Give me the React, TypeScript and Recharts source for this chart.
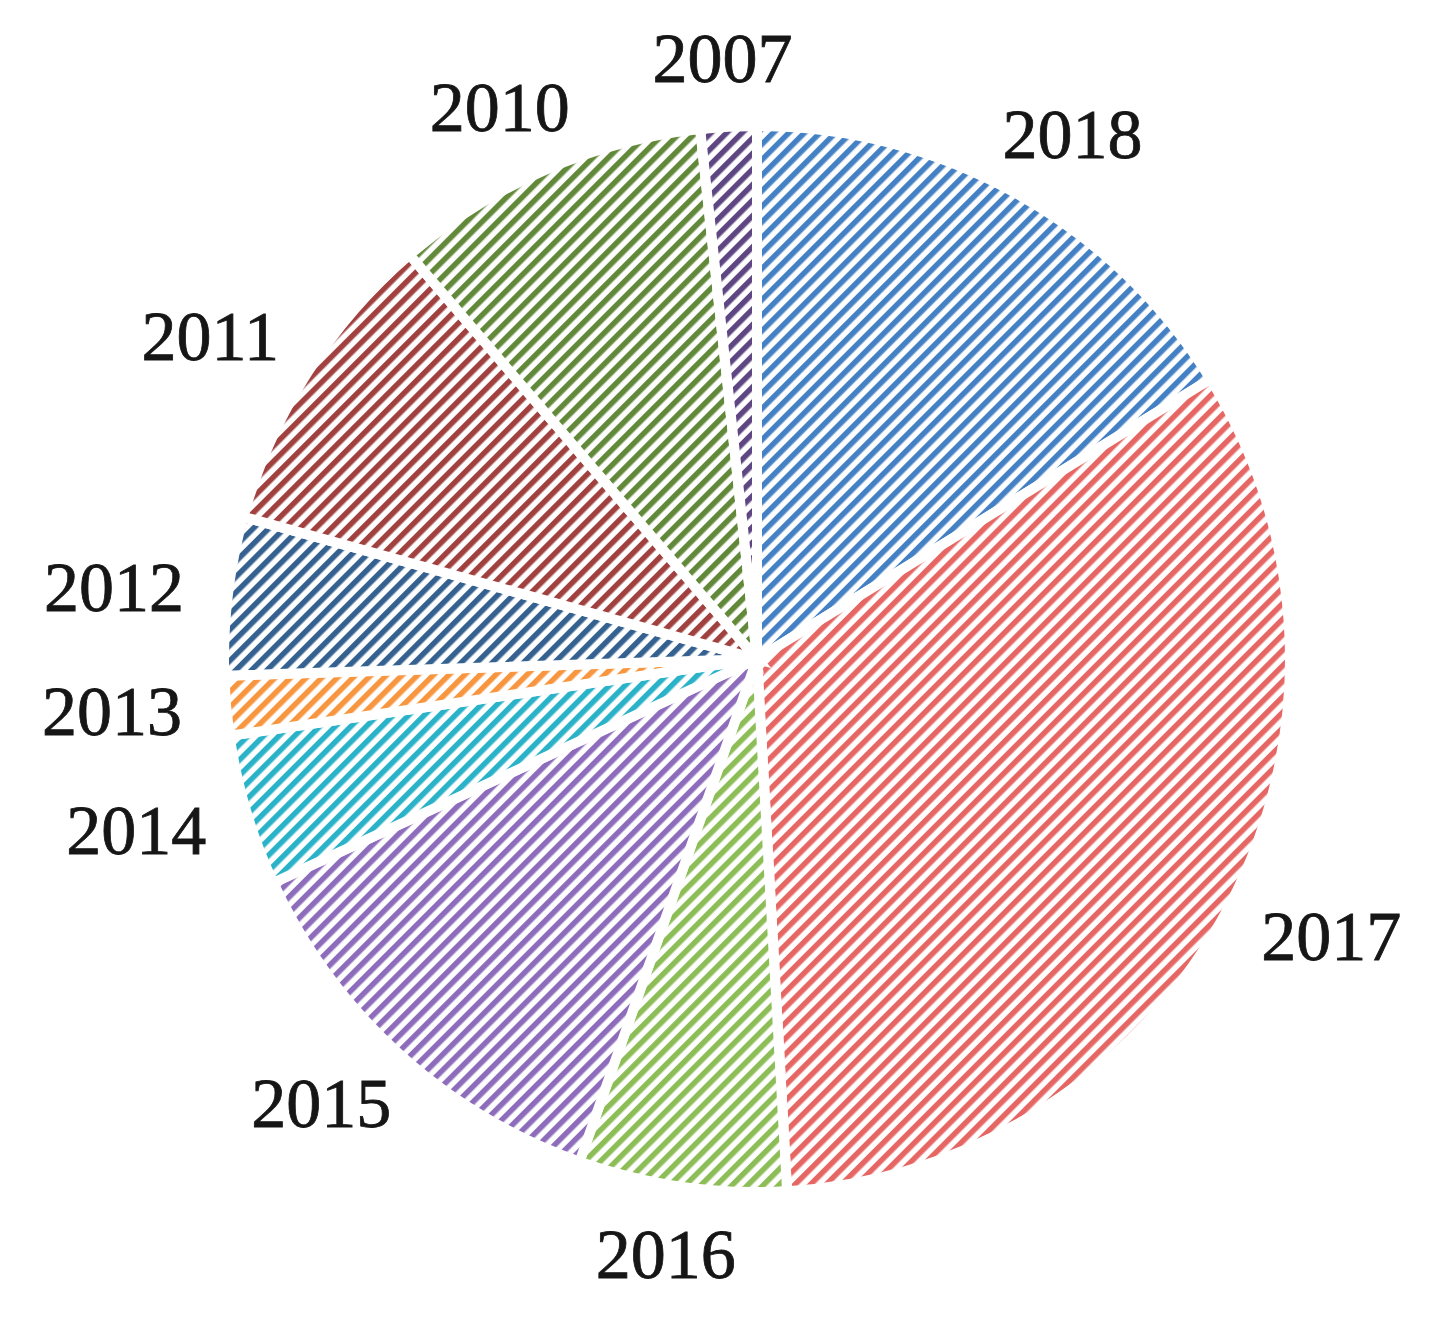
import { Cell, Pie, PieChart } from 'recharts';

const years = ['2018', '2017', '2016', '2015', '2014', '2013', '2012', '2011', '2010', '2007'];
const shares = [16.2, 32.9, 6.3, 12.7, 4.6, 1.8, 4.8, 9.4, 9.6, 1.7];
const colors = ['#4480C4', '#E66664', '#8CBD56', '#8E6CBC', '#2AB3C8', '#F7963F', '#34618F', '#A0413F', '#62893A', '#5E4682'];

const data = years.map((year, i) => ({ name: year, value: shares[i] }));

const RAD = Math.PI / 180;
const LABEL_W = 145;
const LABEL_H = 52;

function renderLabel(props: any) {
  const { cx, cy, midAngle, outerRadius, name } = props;
  const cos = Math.cos(-midAngle * RAD);
  const sin = Math.sin(-midAngle * RAD);
  const r = outerRadius + 42;
  const x = cx + r * cos + (LABEL_W / 2) * cos;
  const y = cy + r * sin + (LABEL_H / 2) * sin;
  return (
    <text
      x={x}
      y={y}
      textAnchor="middle"
      dominantBaseline="central"
      fontFamily="'Liberation Serif', 'Times New Roman', serif"
      fontSize={70}
      fill="#161616"
      stroke="#161616"
      strokeWidth={0.8}
    >
      {name}
    </text>
  );
}

export default function App() {
  return (
    <div style={{ position: 'absolute', left: 0, top: 0, background: '#fff' }}>
      <PieChart width={1444} height={1324}>
        <defs>
          {colors.map((c, i) => (
            <pattern
              key={i}
              id={`hatch-${i}`}
              width={11}
              height={11}
              patternUnits="userSpaceOnUse"
              patternTransform="rotate(45)"
            >
              <rect width={11} height={11} fill="#ffffff" />
              <rect width={5.5} height={11} fill={c} />
            </pattern>
          ))}
        </defs>
        <Pie
          data={data}
          dataKey="value"
          nameKey="name"
          cx={752}
          cy={654}
          outerRadius={533}
          startAngle={90}
          endAngle={-270}
          stroke="#ffffff"
          strokeWidth={10}
          label={renderLabel}
          labelLine={false}
          isAnimationActive={false}
        >
          {data.map((d, i) => (
            <Cell key={d.name} fill={`url(#hatch-${i})`} />
          ))}
        </Pie>
      </PieChart>
    </div>
  );
}
